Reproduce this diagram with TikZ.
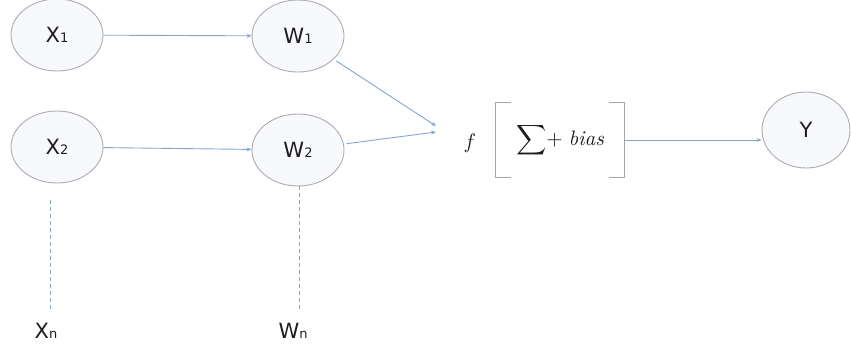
\documentclass[tikz,border=0pt]{standalone}
\usepackage{graphicx}
\usepackage{fontspec}
\setsansfont{DejaVu Sans}
\usetikzlibrary{arrows.meta,shapes.geometric}
\definecolor{linecol}{RGB}{135,165,212}
\definecolor{nodeline}{RGB}{172,172,175}
\definecolor{nodefill}{RGB}{248,249,252}
\definecolor{txt}{RGB}{30,30,30}
\definecolor{brkcol}{RGB}{165,165,165}
\newcommand{\lbl}[2]{#1{\fontsize{13}{14}\selectfont #2}}
\begin{document}
\begin{tikzpicture}[x=1pt,y=-1pt,
  neuron/.style={ellipse, draw=nodeline, fill=nodefill, line width=0.9pt,
    minimum width=92pt, minimum height=72pt, inner sep=0pt, text=txt,
    font=\sffamily\fontsize{21}{24}\selectfont},
  plainlbl/.style={inner sep=1pt, text=txt, font=\sffamily\fontsize{21}{24}\selectfont},
  arr/.style={draw=linecol, line width=0.9pt, -{Stealth[length=5pt,width=4pt]}},
  dashline/.style={draw=linecol, line width=0.9pt, dash pattern=on 4pt off 3pt},
  brk/.style={draw=brkcol, line width=0.8pt},
  mathlbl/.style={inner sep=0pt, text=txt}]
\useasboundingbox (0,0) rectangle (851,351);
% nodes
\node[neuron] (x1) at (57,35) {\lbl{X}{1}};
\node[neuron] (w1) at (298,36) {\lbl{W}{1}};
\node[neuron] (x2) at (57,147) {\lbl{X}{2}};
\node[neuron] (w2) at (298,150) {\lbl{W}{2}};
\node[neuron, minimum width=88pt, minimum height=76pt] (y) at (806,130) {Y};
\node[plainlbl] (xn) at (46,331) {\lbl{X}{n}};
\node[plainlbl] (wn) at (293,331) {\lbl{W}{n}};
\node[mathlbl] (f) at (470,143) {\scalebox{2.1}{$f$}};
\node[mathlbl, minimum width=128pt, minimum height=74pt] (sb) at (560,140)
  {\scalebox{2.1}{$\displaystyle\sum\!+\;\mathit{bias}$}};
\coordinate (c1) at (436,126);
\coordinate (c2) at (436,132);
% brackets
\draw[brk] ([xshift=15]sb.north west) -- (sb.north west) -- (sb.south west) -- ([xshift=15]sb.south west);
\draw[brk] ([xshift=-15]sb.north east) -- (sb.north east) -- (sb.south east) -- ([xshift=-15]sb.south east);
% connectors
\draw[arr] (x1) -- (w1);
\draw[arr] (x2) -- (w2);
\draw[arr, shorten <=3pt] (w1) -- (c1);
\draw[arr, shorten <=3pt] (w2) -- (c2);
\draw[arr] (sb.east) -- (sb.east -| y.west);
\draw[dashline, shorten <=17pt, shorten >=12pt] (x2.south -| 50,0) -- (xn.north -| 50,0);
\draw[dashline, shorten >=12pt] (w2.south -| 299,0) -- (wn.north -| 299,0);
\end{tikzpicture}
\end{document}
